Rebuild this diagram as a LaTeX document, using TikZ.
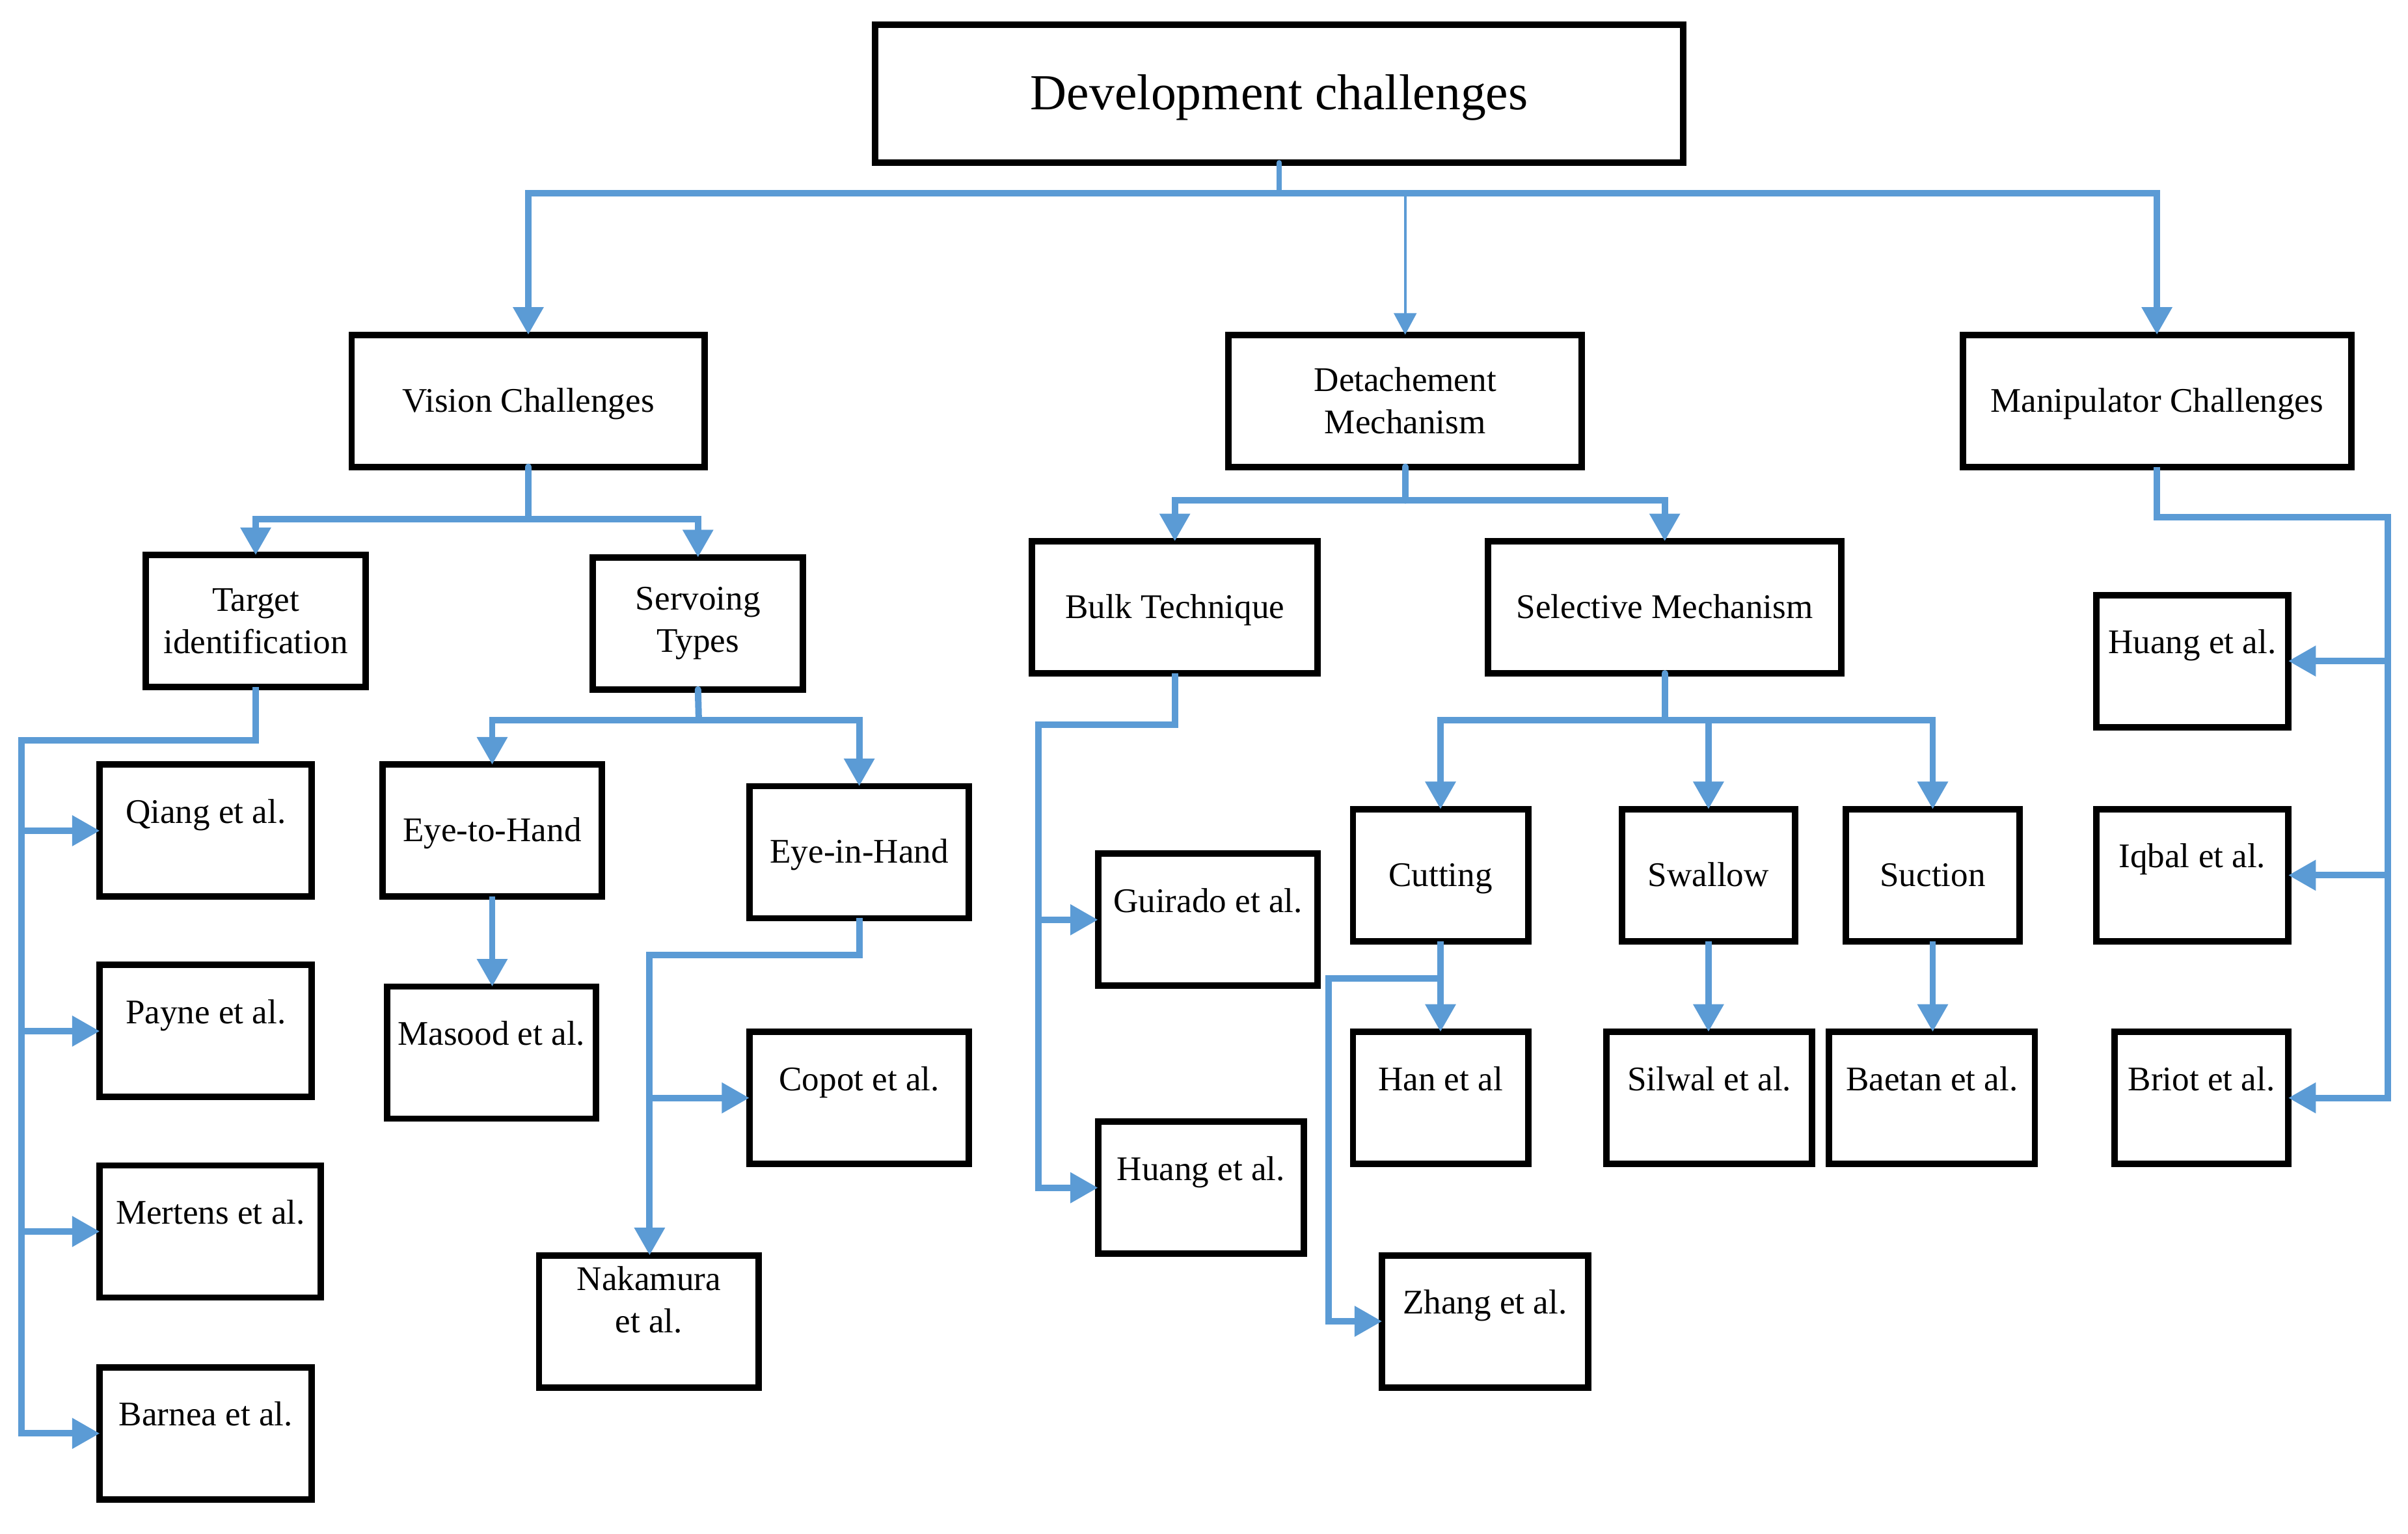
\documentclass[tikz,border=0pt]{standalone}
\usepackage{fontspec}
\setmainfont{Liberation Serif}
\usetikzlibrary{arrows.meta}
\definecolor{wireblue}{RGB}{91,155,213}

\begin{document}
\begin{tikzpicture}[x=0.2mm, y=-0.2mm,
        box/.style={draw, line width=2.4pt, inner sep=0pt, outer sep=0pt,
            minimum height=17.2mm, align=center,
            font=\fontsize{12.8pt}{15.6pt}\selectfont},
        onebox/.style={box, text height=9pt, text depth=0.8pt},
        refbox/.style={box, text height=7pt, text depth=12.56pt},
        wire/.style={draw=wireblue, line width=2.4pt},
        wirearrow/.style={wire, -{Triangle[length=3.6mm, width=3.8mm]}},
        wireboth/.style={wire, {Triangle[length=3.6mm, width=3.8mm]}-{Triangle[length=3.6mm, width=3.8mm]}}]
    \useasboundingbox (0,0) rectangle (1568,999);

    \node[box, minimum width=105.2mm, minimum height=18mm, text height=14pt, text depth=2.3pt,
        font=\fontsize{18.7pt}{22pt}\selectfont] (dev) at (833,61) {Development challenges};

    \node[onebox, minimum width=46mm] (vis) at (344,261) {Vision Challenges};
    \node[box, minimum width=46mm] (det) at (915,261) {Detachement\\Mechanism};
    \node[onebox, minimum width=50.6mm] (man) at (1404.5,261) {Manipulator Challenges};

    \node[box, minimum width=28.6mm] (tgt) at (166.5,404.5) {Target\\identification};
    \node[box, minimum width=27.4mm] (srv) at (454.5,406) {Servoing\\Types};
    \node[onebox, minimum width=37.2mm] (blk) at (765,395.5) {Bulk Technique};
    \node[onebox, minimum width=46mm] (sel) at (1084,395.5) {Selective Mechanism};

    \node[refbox, minimum width=27.6mm] (qia) at (134,541) {Qiang et al.};
    \node[refbox, minimum width=27.6mm] (pay) at (134,671.5) {Payne et al.};
    \node[refbox, minimum width=28.8mm] (mer) at (137,802) {Mertens et al.};
    \node[refbox, minimum width=27.6mm] (bar) at (134,933.5) {Barnea et al.};

    \node[onebox, minimum width=28.6mm] (eth) at (320.5,541) {Eye-to-Hand};
    \node[onebox, minimum width=28.6mm] (eih) at (559.5,555) {Eye-in-Hand};
    \node[refbox, minimum width=27.2mm] (mas) at (320,685.5) {Masood et al.};
    \node[refbox, minimum width=28.6mm] (cop) at (559.5,715) {Copot et al.};
    \node[box, minimum width=28.6mm, text height=10pt, text depth=1.6pt] (nak) at (422.5,860.5) {Nakamura\\et al.};

    \node[refbox, minimum width=28.6mm] (gui) at (786.5,599) {Guirado et al.};
    \node[refbox, minimum width=26.8mm] (hbu) at (782,773.5) {Huang et al.};

    \node[onebox, minimum width=22.8mm] (cut) at (938,570) {Cutting};
    \node[onebox, minimum width=22.6mm] (swa) at (1112.5,570) {Swallow};
    \node[onebox, minimum width=22.6mm] (suc) at (1258.5,570) {Suction};
    \node[refbox, minimum width=22.8mm] (han) at (938,715) {Han et al};
    \node[refbox, minimum width=26.8mm] (sil) at (1113,715) {Silwal et al.};
    \node[refbox, minimum width=26.8mm] (bae) at (1258,715) {Baetan et al.};
    \node[refbox, minimum width=26.8mm] (zha) at (967,860.5) {Zhang et al.};

    \node[refbox, minimum width=25mm] (hma) at (1427.5,430.5) {Huang et al.};
    \node[refbox, minimum width=25mm] (iqb) at (1427.5,570) {Iqbal et al.};
    \node[refbox, minimum width=22.6mm] (bri) at (1433.5,715) {Briot et al.};

    % first level
    \coordinate (top) at (833,126);
    \draw[wire, line width=2pt, line cap=round] (dev.south) -- (top);
    \draw[wireboth] (vis.north) |- (top) -| (man.north);
    \draw[wireblue, line width=1pt, -{Triangle[length=2.8mm, width=2.9mm]}] (det.north |- top) -- (det.north);

    % vision
    \coordinate (jv) at (344,338);
    \draw[wire, line cap=round] (vis.south) -- (jv);
    \draw[wireboth] (tgt.north) |- (jv) -| (srv.north);
    \coordinate (rt) at (14,482);
    \draw[wirearrow] (tgt.south) |- (rt) -- (rt |- bar.west) -- (bar.west);
    \foreach \n in {qia,pay,mer}
        \draw[wirearrow] (rt |- \n.west) -- (\n.west);
    \coordinate (js) at (455,469);
    \draw[wire, line cap=round] (srv.south) -- (js);
    \draw[wireboth] (eth.north) |- (js) -| (eih.north);
    \draw[wirearrow] (eth.south) -- (eth.south |- mas.north);
    \coordinate (re) at (423,622);
    \draw[wirearrow] (eih.south) |- (re) -- (re |- nak.north);
    \draw[wirearrow] (re |- cop.west) -- (cop.west);

    % detachement
    \coordinate (jd) at (915,326);
    \draw[wire, line cap=round] (det.south) -- (jd);
    \draw[wireboth] (blk.north) |- (jd) -| (sel.north);
    \coordinate (rb) at (676,472);
    \draw[wirearrow] (blk.south) |- (rb) -- (rb |- hbu.west) -- (hbu.west);
    \draw[wirearrow] (rb |- gui.west) -- (gui.west);
    \coordinate (jm) at (1084,469);
    \draw[wire, line cap=round] (sel.south) -- (jm);
    \draw[wireboth] (cut.north) |- (jm) -| (suc.north);
    \draw[wirearrow] (jm -| swa.north) -- (swa.north);
    \draw[wirearrow] (cut.south) -- (han.north);
    \coordinate (rc) at (865,637);
    \draw[wirearrow] (cut.south |- rc) -- (rc) -- (rc |- zha.west) -- (zha.west);
    \draw[wirearrow] (swa.south) -- (swa.south |- sil.north);
    \draw[wirearrow] (suc.south) -- (suc.south |- bae.north);

    % manipulator
    \coordinate (rm) at (1555,337);
    \draw[wirearrow] (man.south) |- (rm) -- (rm |- bri.east) -- (bri.east);
    \foreach \n in {hma,iqb}
        \draw[wirearrow] (rm |- \n.east) -- (\n.east);
\end{tikzpicture}
\end{document}
